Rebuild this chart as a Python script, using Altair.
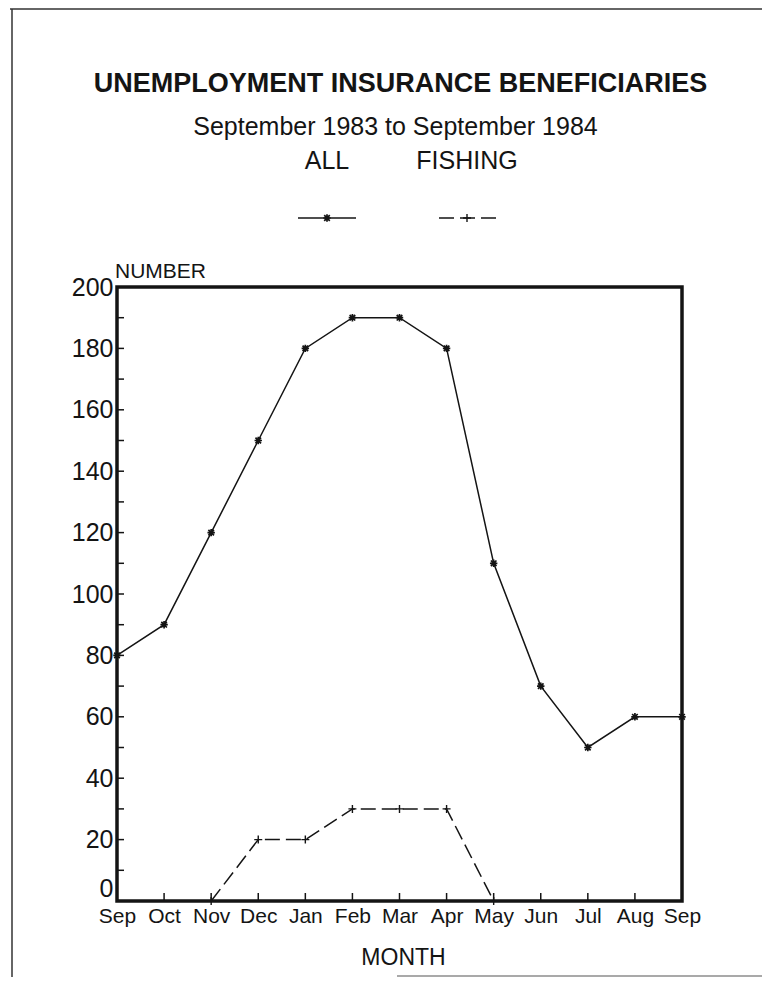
import altair as alt
import pandas as pd

# ---- data ----
months = ["Sep", "Oct", "Nov", "Dec", "Jan", "Feb", "Mar", "Apr", "May", "Jun", "Jul", "Aug", "Sep"]
all_values = [80, 90, 120, 150, 180, 190, 190, 180, 110, 70, 50, 60, 60]
fishing_values = [None, None, 0, 20, 20, 30, 30, 30, 0, None, None, None, None]
y_label_values = [0, 20, 40, 60, 80, 100, 120, 140, 160, 180, 200]
y_tick_values = [10, 20, 30, 40, 50, 60, 70, 80, 90, 100, 110, 120, 130, 140, 150, 160, 170, 180, 190]
x_tick_values = [1, 2, 3, 4, 5, 6, 7, 8, 9, 10, 11]
title_text = ["UNEMPLOYMENT INSURANCE BENEFICIARIES"]
subtitle_text = ["September 1983 to September 1984"]
series_names = ["ALL", "FISHING"]
y_title = ["NUMBER"]
x_title = ["MONTH"]

W, H = 565, 614
FONT = "Liberation Sans"
INK = "#141414"

df_all = pd.DataFrame({"idx": list(range(len(months))), "value": all_values})
df_fish = pd.DataFrame({"idx": list(range(len(months))), "value": fishing_values}).dropna()
df_yt = pd.DataFrame({"value": y_tick_values})
df_xt = pd.DataFrame({"idx": x_tick_values})

label_expr = "[" + ",".join('"%s"' % m for m in months) + "][datum.value]"

xs = alt.Scale(domain=[0, 12], nice=False, zero=False)
ys = alt.Scale(domain=[0, 200], nice=False, zero=True)
x_axis = alt.Axis(values=list(range(13)), labelExpr=label_expr, domain=False, ticks=False,
                  grid=False, title=None, labelFont=FONT, labelFontSize=21, labelColor=INK,
                  labelPadding=4, labelFlush=False)
y_axis = alt.Axis(values=y_label_values, domain=False, ticks=False, grid=False, title=None,
                  labelFont=FONT, labelFontSize=25, labelColor=INK, labelPadding=4,
                  labelBaseline={"condition": {"test": "datum.value == 0", "value": "bottom"},
                                 "value": "middle"})

X = alt.X("idx:Q", scale=xs, axis=x_axis)
Y = alt.Y("value:Q", scale=ys, axis=y_axis)

star = "M-1,0H1M0,-1V1M-0.75,-0.75L0.75,0.75M-0.75,0.75L0.75,-0.75"
plus = "M-1,0H1M0,-1V1"

line_all = alt.Chart(df_all).mark_line(color=INK, strokeWidth=1.5).encode(x=X, y=Y)
pts_all = alt.Chart(df_all).mark_point(shape=star, size=55, filled=False, color=INK,
                                       strokeWidth=1.7, opacity=1).encode(x=X, y=Y)
line_fish = alt.Chart(df_fish).mark_line(color=INK, strokeWidth=1.5, strokeDash=[15, 6]).encode(x=X, y=Y)
pts_fish = alt.Chart(df_fish).mark_point(shape=plus, size=64, filled=False, color=INK,
                                         strokeWidth=1.4, opacity=1).encode(x=X, y=Y)

yticks = alt.Chart(df_yt).mark_rule(color=INK, strokeWidth=1.5).encode(
    y=Y, x=alt.value(0), x2=alt.value(7))
xticks = alt.Chart(df_xt).mark_rule(color=INK, strokeWidth=1.5).encode(
    x=X, y=alt.value(H), y2=alt.value(H - 8))

def txt(values, x, y, size, weight="normal", align="center"):
    return alt.Chart(pd.DataFrame({"t": values})).mark_text(
        font=FONT, fontSize=size, fontWeight=weight, color=INK, align=align, baseline="alphabetic"
    ).encode(x=alt.value(x), y=alt.value(y), text="t:N")

title = txt(title_text, W / 2 + 1, -195, 27, "bold")
subtitle = txt(subtitle_text, W / 2 - 4, -152, 25)
lab_all = txt([series_names[0]], 210, -118, 25)
lab_fish = txt([series_names[1]], 350, -118, 25)
ytitle = txt(y_title, -2, -9, 21, align="left")
xtitle = txt(x_title, W / 2 + 4, 678, 23)

legend_df = pd.DataFrame({"s": series_names})
leg_all_line = alt.Chart(legend_df.iloc[[0]]).mark_rule(color=INK, strokeWidth=1.5).encode(
    x=alt.value(181), x2=alt.value(239), y=alt.value(-69))
leg_all_pt = alt.Chart(legend_df.iloc[[0]]).mark_point(shape=star, size=55, filled=False, color=INK,
                                                      strokeWidth=1.7, opacity=1).encode(
    x=alt.value(210), y=alt.value(-69))
leg_fish_line = alt.Chart(legend_df.iloc[[1]]).mark_rule(color=INK, strokeWidth=1.5, strokeDash=[15, 6]).encode(
    x=alt.value(322), x2=alt.value(380), y=alt.value(-69))
leg_fish_pt = alt.Chart(legend_df.iloc[[1]]).mark_point(shape=plus, size=64, filled=False, color=INK,
                                                       strokeWidth=1.4, opacity=1).encode(
    x=alt.value(350), y=alt.value(-69))

# page frame (scanned sheet border)
RIGHT_PAD = 80
frame_top = alt.Chart(legend_df.iloc[[0]]).mark_rule(color="#333", strokeWidth=1.5).encode(
    x=alt.value(-107), x2=alt.value(W + RIGHT_PAD), y=alt.value(-278))
frame_left = alt.Chart(legend_df.iloc[[0]]).mark_rule(color="#333", strokeWidth=1.5).encode(
    x=alt.value(-105), y=alt.value(-278), y2=alt.value(H + 76))
frame_bottom = alt.Chart(legend_df.iloc[[0]]).mark_rule(color="#555", strokeWidth=1.2).encode(
    x=alt.value(280), x2=alt.value(W + RIGHT_PAD), y=alt.value(H + 75))

chart = alt.layer(
    line_all, pts_all, line_fish, pts_fish, yticks, xticks,
    title, subtitle, lab_all, lab_fish, ytitle, xtitle,
    leg_all_line, leg_all_pt, leg_fish_line, leg_fish_pt, frame_top, frame_left, frame_bottom,
).properties(
    width=W, height=H,
    autosize=alt.AutoSizeParams(type="none"),
    padding={"left": 109, "top": 279, "right": RIGHT_PAD, "bottom": 76},
    background="white",
).configure_view(stroke=INK, strokeWidth=3.5)

chart.save("out.html", embed_options={"renderer": "svg", "actions": False})
